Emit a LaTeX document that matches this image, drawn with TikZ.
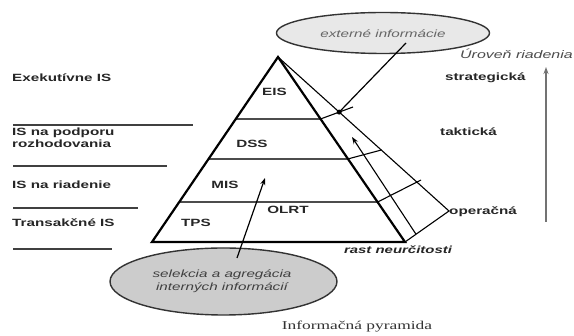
\documentclass[tikz,border=0pt]{standalone}
\usepackage{fontspec}
\setmainfont{Liberation Sans}
\newfontfamily\labfont[FakeStretch=1.45]{Liberation Sans}
\newfontfamily\capfont[FakeStretch=1.45]{Liberation Serif}
\usetikzlibrary{arrows.meta,calc,shapes.geometric}
\begin{document}
\begin{tikzpicture}[x=1pt,y=-1pt,
  lab/.style={font=\labfont\bfseries\fontsize{10.5}{12}\selectfont, inner sep=0pt, anchor=west, text=black!85},
  itl/.style={font=\labfont\itshape\fontsize{10.5}{12.5}\selectfont, inner sep=0pt, align=center},
  sep/.style={draw=black!75, line width=1.3pt},
  lvl/.style={draw=black!70, line width=1.4pt},
  strip/.style={draw=black, line width=1.1pt},
  pyr/.style={draw=black, line width=2.2pt, line join=miter},
  bubble/.style={ellipse, draw=black!80, line width=1.4pt, inner sep=0pt}
]
\useasboundingbox (0,0) rectangle (574,336);
\fill[white] (0,0) rectangle (574,336);

% ellipses
\node[bubble, fill=black!9, minimum width=213pt, minimum height=41pt] (ext) at (383,33) {};
\node[itl, text=black!60] (extt) at (383,34) {externé informácie};
\node[bubble, fill=black!20, minimum width=227pt, minimum height=67pt] (int) at (223.5,281.5) {};
\node[itl, text=black!75] (intt) at (222,281) {selekcia a agregácia\\interných informácií};

% pyramid
\coordinate (apex) at (278,57);
\coordinate (bl) at (152,242);
\coordinate (br) at (405,242);
\coordinate (op) at (449,211);

\draw[lvl] ($(apex)!0.335!(bl)$) coordinate (l1) -- ($(apex)!0.335!(br)$) coordinate (r1);
\draw[lvl] ($(apex)!0.551!(bl)$) coordinate (l2) -- ($(apex)!0.551!(br)$) coordinate (r2);
\draw[lvl] ($(apex)!0.784!(bl)$) coordinate (l3) -- ($(apex)!0.784!(br)$) coordinate (r3);

% strip at the right
\coordinate (c1) at (353,107);
\coordinate (c3) at (421,180);
\draw[strip] (apex) -- (op) -- (br);
\draw[strip] (r1) -- (c1);
\draw[strip] (r2) -- ($(apex)!0.604!(op)$) coordinate (c2);
\draw[strip] (r3) -- (c3);
\draw[strip, -{Stealth[length=7pt,width=5pt]}] ($(br)!0.25!(op)$) coordinate (ua) -- (352,137) coordinate (ub);
\coordinate (dot) at (intersection of apex--op and r1--c1);

\draw[pyr] (apex) -- (bl) -- (br) -- cycle;

% connectors from ellipses
\coordinate (extin) at (406,43);
\draw[line width=1.2pt] (extin) -- (dot);
\fill (dot) circle (2.5pt);
\coordinate (intin) at (237,258);
\coordinate (intend) at (265,178);
\draw[line width=1.2pt, -{Stealth[length=7pt,width=5pt]}] (intin) -- (intend);

% pyramid labels
\node[lab, anchor=center] (eis) at (274.5,92) {EIS};
\node[lab, anchor=center] (dss) at (252,144) {DSS};
\node[lab, anchor=center] (mis) at (225,185) {MIS};
\node[lab, anchor=center] (tps) at (196,223) {TPS};
\node[lab, anchor=center] (olrt) at (288,210) {OLRT};
\node[font=\labfont\bfseries\itshape\fontsize{10.3}{11}\selectfont, inner sep=0pt, text=black!85] (rast) at (398,249.5) {rast neurčitosti};

% left labels
\node[lab] (exe) at (12,78) {Exekutívne IS};
\node[lab, align=left] (dsl) at (12,138) {IS na podporu\\rozhodovania};
\node[lab] (misl) at (12,185) {IS na riadenie};
\node[lab] (tpsl) at (12,223) {Transakčné IS};
\draw[sep] (13,125) coordinate (s1a) -- (193,125) coordinate (s1b);
\draw[sep] (13,166) coordinate (s2a) -- (167,166) coordinate (s2b);
\draw[sep] (13,208) coordinate (s3a) -- (138,208) coordinate (s3b);
\draw[sep] (13,249) coordinate (s4a) -- (112,249) coordinate (s4b);

% right labels
\node[font=\labfont\itshape\fontsize{11}{13}\selectfont, inner sep=0pt, anchor=east, text=black!70] (uro) at (573,54) {Úroveň riadenia};
\node[lab] (str) at (445,78) {strategická};
\node[lab] (tak) at (440,132) {taktická};
\node[lab] (ope) at (449,212) {operačná};
\coordinate (va) at (546,222);
\coordinate (vb) at (546,67);
\draw[draw=black!55, line width=1.2pt, -{Stealth[length=7pt,width=5pt]}] (va) -- (vb);

% caption
\node[font=\capfont\fontsize{12}{14}\selectfont, inner sep=0pt, text=black!80] (cap) at (357,327) {Informačná pyramida};
\end{tikzpicture}
\end{document}
